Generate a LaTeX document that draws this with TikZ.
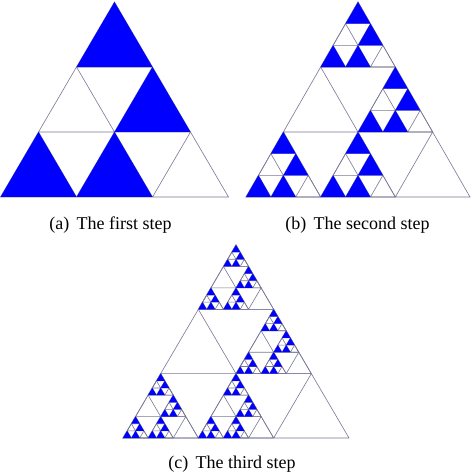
\documentclass[tikz,border=0pt]{standalone}
\usepackage{fontspec}
\setmainfont{Liberation Serif}
\definecolor{gridcol}{RGB}{120,120,150}
\definecolor{fillcol}{RGB}{0,0,255}
\tikzset{
  gridline/.style={draw=gridcol, line width=0.6pt},
  filltri/.style={fill=fillcol},
  caption/.style={font=\fontsize{18}{21}\selectfont, inner sep=0pt}
}
\newcommand\sierpstep[1]{%
  \ifnum#1=0
    \fill[filltri] (0,0) -- (1,0) -- (0.5,1) -- cycle;
  \else
    \draw[gridline] (0,0) -- (1,0) -- (0.5,1) -- cycle
      (1/6,1/3) -- (5/6,1/3) (1/3,2/3) -- (2/3,2/3)
      (1/3,0) -- (2/3,2/3) (2/3,0) -- (5/6,1/3)
      (2/3,0) -- (1/3,2/3) (1/3,0) -- (1/6,1/3);
    \begin{scope}[shift={(1/3,2/3)},scale=1/3]\sierpstep{\numexpr#1-1\relax}\end{scope}
    \begin{scope}[shift={(1/2,1/3)},scale=1/3]\sierpstep{\numexpr#1-1\relax}\end{scope}
    \begin{scope}[shift={(0,0)},scale=1/3]\sierpstep{\numexpr#1-1\relax}\end{scope}
    \begin{scope}[shift={(1/3,0)},scale=1/3]\sierpstep{\numexpr#1-1\relax}\end{scope}
  \fi}
\begin{document}
\begin{tikzpicture}[x=1pt,y=1pt]
\useasboundingbox (0,0) rectangle (474,475);
\fill[white] (0,0) rectangle (474,475);
\begin{scope}[shift={(0.5,278)},x=228pt,y=195pt]
  \sierpstep{1}
\end{scope}
\begin{scope}[shift={(246,278)},x=224pt,y=195pt]
  \sierpstep{2}
\end{scope}
\begin{scope}[shift={(123,37)},x=226pt,y=193pt]
  \sierpstep{3}
\end{scope}
\node[caption] (capa) at (110.5,250) {(a)\hspace{0.4em}The first step};
\node[caption] (capb) at (357.5,250) {(b)\hspace{0.4em}The second step};
\node[caption] (capc) at (232,11) {(c)\hspace{0.4em}The third step};
\end{tikzpicture}
\end{document}
